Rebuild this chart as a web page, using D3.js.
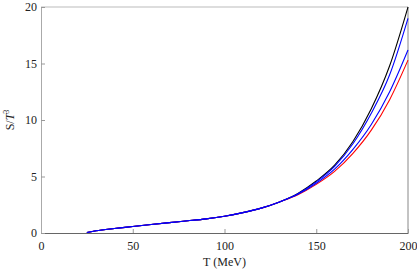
<!DOCTYPE html>
<html>
<head>
<meta charset="utf-8">
<script src="https://cdn.jsdelivr.net/npm/d3@7"></script>
<style>
  body { margin: 0; background: #fff; }
  text { font-family: "Liberation Serif", "DejaVu Serif", serif; }
</style>
</head>
<body>
<script>
// temperatures (MeV) and entropy density S/T^3 for the four curves
const temps = [25, 30, 40, 50, 60, 70, 80, 90, 100, 110, 120, 130, 140, 150, 160, 170, 180, 190, 200];
const common = [0.05, 0.2, 0.4, 0.57, 0.75, 0.92, 1.08, 1.25, 1.48, 1.8, 2.2, 2.75];
const blackTail = [3.5, 4.6, 6.0, 8.1, 11.0, 14.8, 20.0];
const blueTail1 = [3.48, 4.52, 5.9, 7.9, 10.6, 14.0, 19.0];
const blueTail2 = [3.42, 4.4, 5.65, 7.4, 9.6, 12.5, 16.2];
const redTail = [3.38, 4.3, 5.45, 7.05, 9.1, 11.8, 15.3];
const xTicks = [0, 50, 100, 150, 200];
const yTicks = [0, 5, 10, 15, 20];

const series = [
  { color: '#000000', vals: common.concat(blackTail) },
  { color: '#ff0000', vals: common.concat(redTail) },
  { color: '#0000ff', vals: common.concat(blueTail2) },
  { color: '#0000ff', vals: common.concat(blueTail1) }
];

const W = 417, H = 271;
const margin = { top: 7, left: 41, right: 9, bottom: 38 };
const width = W - margin.left - margin.right;
const height = H - margin.top - margin.bottom;

const svg = d3.select('body').append('svg').attr('width', W).attr('height', H);
const g = svg.append('g').attr('transform', `translate(${margin.left}, ${margin.top})`);

const x = d3.scaleLinear().domain([0, 200]).range([0, width]);
const y = d3.scaleLinear().domain([0, 20]).range([height, 0]);

// frame
g.append('line').attr('x1', 0).attr('x2', width).attr('y1', 0).attr('y2', 0)
  .attr('stroke', '#bbb').attr('stroke-width', 1);
g.append('line').attr('x1', width).attr('x2', width).attr('y1', 0).attr('y2', height)
  .attr('stroke', '#888').attr('stroke-width', 1);

const xAxis = d3.axisBottom(x).tickValues(xTicks).tickSizeInner(-4).tickSizeOuter(0).tickPadding(8);
const yAxis = d3.axisLeft(y).tickValues(yTicks).tickSizeInner(-4).tickSizeOuter(0).tickPadding(4);

const gx = g.append('g').attr('transform', `translate(0, ${height})`).call(xAxis);
gx.select('.domain').attr('stroke', '#666');
gx.selectAll('.tick line').attr('stroke', '#999');
gx.selectAll('.tick text').attr('font-size', 12).attr('fill', '#222')
  .style('font-family', '"Liberation Serif", serif');

const gy = g.append('g').call(yAxis);
gy.select('.domain').attr('stroke', '#aaa');
gy.selectAll('.tick line').attr('stroke', '#999');
gy.selectAll('.tick text').attr('font-size', 12).attr('fill', '#222')
  .style('font-family', '"Liberation Serif", serif');

const line = d3.line()
  .x((d, i) => x(temps[i]))
  .y(d => y(d))
  .curve(d3.curveMonotoneX);

g.selectAll('path.curve')
  .data(series)
  .enter().append('path')
    .attr('class', 'curve')
    .attr('fill', 'none')
    .attr('stroke', d => d.color)
    .attr('stroke-width', 1.1)
    .attr('d', d => line(d.vals));

// axis titles
g.append('text')
  .attr('text-anchor', 'middle')
  .attr('x', width / 2)
  .attr('y', height + 33)
  .attr('font-size', 12)
  .attr('fill', '#222')
  .text('T (MeV)');

const yl = svg.append('text')
  .attr('text-anchor', 'middle')
  .attr('transform', `translate(14, ${margin.top + height / 2}) rotate(-90)`)
  .attr('font-size', 12)
  .attr('fill', '#222');
yl.append('tspan').text('S/');
yl.append('tspan').attr('font-style', 'italic').text('T');
yl.append('tspan').attr('font-size', 8).attr('dy', -5).text('3');
</script>
</body>
</html>
